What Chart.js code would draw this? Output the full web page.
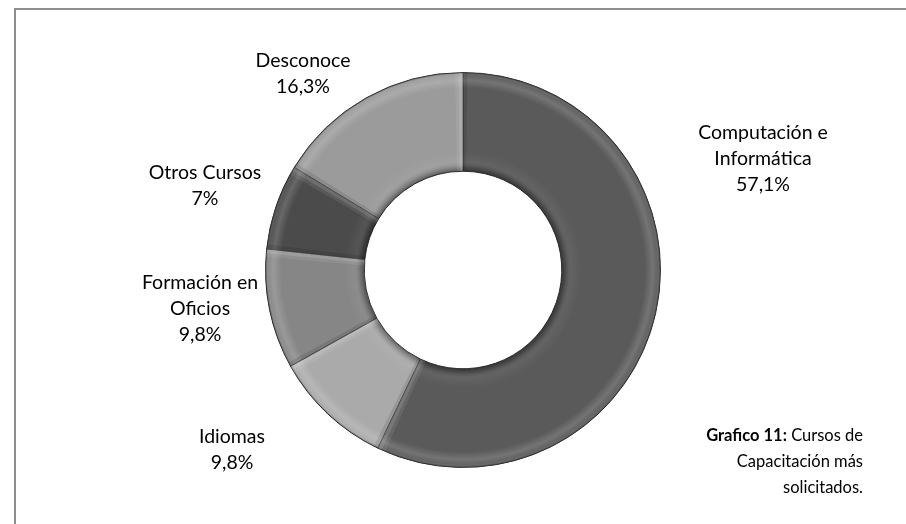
<!DOCTYPE html>
<html>
<head>
<meta charset="utf-8">
<script src="https://cdn.jsdelivr.net/npm/chart.js@4.4.1/dist/chart.umd.min.js"></script>
<style>
  html, body { margin: 0; padding: 0; background: #ffffff; }
  #wrap { position: relative; width: 906px; height: 524px; overflow: hidden; }
  #frame { position: absolute; left: 14px; top: 8px; width: 1000px; height: 1000px;
           border-left: 2px solid #8e8e8e; border-top: 2px solid #8e8e8e; }
  canvas { position: absolute; left: 0; top: 0; }
</style>
</head>
<body>
<div id="wrap">
  <div id="frame"></div>
  <canvas id="c" width="906" height="524"></canvas>
</div>
<script>
// ---- data ----
const categories = ["Computación e Informática", "Idiomas", "Formación en Oficios", "Otros Cursos", "Desconoce"];
const labelLines = [["Computación e", "Informática"], ["Idiomas"], ["Formación en", "Oficios"], ["Otros Cursos"], ["Desconoce"]];
const values = [57.1, 9.8, 9.8, 7.0, 16.3];
const valueLabels = ["57,1%", "9,8%", "9,8%", "7%", "16,3%"];
const sliceColors = ["#5a5a5a", "#aaaaaa", "#868686", "#4b4b4b", "#9b9b9b"];
const captionBold = "Grafico 11:";
const captionLines = [" Cursos de", "Capacitación más", "solicitados."];

// label anchor (centre of the first text line), per slice
const labelAnchors = [[763, 133], [232, 437], [200, 283], [205, 173], [303, 61]];

const bevelPlugin = {
  id: 'bevel',
  afterDatasetsDraw(chart) {
    const ctx = chart.ctx;
    const meta = chart.getDatasetMeta(0);
    meta.data.forEach((arc) => {
      const p = arc.getProps(['x', 'y', 'startAngle', 'endAngle', 'innerRadius', 'outerRadius']);
      ctx.save();
      ctx.beginPath();
      ctx.arc(p.x, p.y, p.outerRadius, p.startAngle, p.endAngle);
      ctx.arc(p.x, p.y, p.innerRadius, p.endAngle, p.startAngle, true);
      ctx.closePath();
      ctx.clip();
      const g = ctx.createRadialGradient(p.x, p.y, p.innerRadius, p.x, p.y, p.outerRadius);
      g.addColorStop(0.00, 'rgba(0,0,0,0.40)');
      g.addColorStop(0.04, 'rgba(0,0,0,0.15)');
      g.addColorStop(0.10, 'rgba(255,255,255,0.05)');
      g.addColorStop(0.20, 'rgba(255,255,255,0)');
      g.addColorStop(0.84, 'rgba(255,255,255,0)');
      g.addColorStop(0.92, 'rgba(255,255,255,0.16)');
      g.addColorStop(0.97, 'rgba(255,255,255,0.06)');
      g.addColorStop(1.00, 'rgba(0,0,0,0.40)');
      ctx.fillStyle = g;
      ctx.fillRect(p.x - p.outerRadius, p.y - p.outerRadius, p.outerRadius * 2, p.outerRadius * 2);
      // soft highlight along the end edge, soft shade along the start edge
      const edge = (ang, off, col, w) => {
        ctx.lineWidth = w;
        ctx.strokeStyle = col;
        ctx.beginPath();
        const a = ang + off;
        ctx.moveTo(p.x + Math.cos(a) * p.innerRadius, p.y + Math.sin(a) * p.innerRadius);
        ctx.lineTo(p.x + Math.cos(a) * p.outerRadius, p.y + Math.sin(a) * p.outerRadius);
        ctx.stroke();
      };
      edge(p.endAngle, -0.02, 'rgba(255,255,255,0.08)', 8);
      edge(p.endAngle, -0.012, 'rgba(255,255,255,0.12)', 4);
      edge(p.startAngle, 0.012, 'rgba(0,0,0,0.10)', 4);
      ctx.restore();
    });
  }
};

const labelPlugin = {
  id: 'texts',
  afterDraw(chart) {
    const ctx = chart.ctx;
    ctx.save();
    ctx.fillStyle = '#000';
    ctx.textBaseline = 'middle';
    ctx.textAlign = 'center';
    ctx.font = '19.5px Lato';
    const lh = 26;
    labelLines.forEach((lines, i) => {
      const [x, y] = labelAnchors[i];
      const all = lines.concat([valueLabels[i]]);
      all.forEach((t, k) => ctx.fillText(t, x, y + k * lh));
    });
    // caption, right aligned
    const rx = 863, cy = 436, clh = 26;
    const fs = 16.5;
    ctx.textAlign = 'left';
    ctx.font = 'bold ' + fs + 'px Lato';
    const wb = ctx.measureText(captionBold).width;
    ctx.font = fs + 'px Lato';
    const wn = ctx.measureText(captionLines[0]).width;
    ctx.font = 'bold ' + fs + 'px Lato';
    ctx.fillText(captionBold, rx - wb - wn, cy);
    ctx.font = fs + 'px Lato';
    ctx.fillText(captionLines[0], rx - wn, cy);
    ctx.textAlign = 'right';
    ctx.fillText(captionLines[1], rx, cy + clh);
    ctx.fillText(captionLines[2], rx, cy + 2 * clh);
    ctx.restore();
  }
};

new Chart(document.getElementById('c'), {
  type: 'doughnut',
  data: {
    labels: categories,
    datasets: [{
      data: values,
      backgroundColor: sliceColors,
      borderColor: '#3c3c3c',
      borderWidth: 1
    }]
  },
  options: {
    responsive: false,
    animation: false,
    devicePixelRatio: 1,
    cutout: '50%',
    rotation: 0,
    layout: { padding: { left: 265, right: 245, top: 72, bottom: 56 } },
    plugins: { legend: { display: false }, tooltip: { enabled: false } }
  },
  plugins: [bevelPlugin, labelPlugin]
});
</script>
</body>
</html>
